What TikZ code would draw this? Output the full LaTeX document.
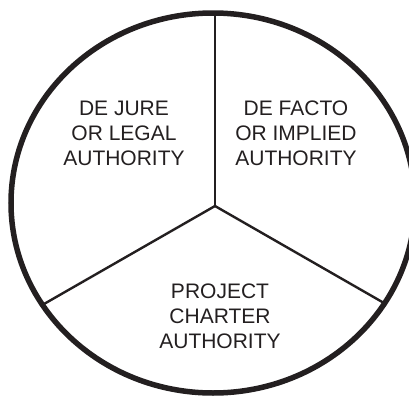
\documentclass[tikz,border=0pt]{standalone}
\usepackage{fontspec}
\setmainfont{Liberation Sans}
\definecolor{inkgray}{HTML}{231F20}
\begin{document}
\begin{tikzpicture}[
  x=1bp, y=-1bp,
  rim/.style={draw=inkgray, line width=5.5bp},
  spoke/.style={draw=inkgray, line width=2.4bp},
  sector/.style={align=center, text=inkgray, inner sep=0pt,
    font=\fontsize{21bp}{25bp}\selectfont}
]
  \useasboundingbox (0,0) rectangle (409,397);

  % Rand (leicht oval) und Mittelpunkt der Speichen
  \draw[rim] (213,203) ellipse [x radius=202, y radius=190];
  \coordinate (hub) at (215,206);
  \coordinate (top) at (215,12);
  \coordinate (lowleft) at (44,304);
  \coordinate (lowright) at (384,303);

  % Speichen
  \draw[spoke] (hub) -- (top);
  \draw[spoke] (hub) -- (lowleft);
  \draw[spoke] (hub) -- (lowright);

  % Beschriftung der drei Sektoren
  \node[sector] (dejure) at (124,133) {DE JURE\\OR LEGAL\\AUTHORITY};
  \node[sector] (defacto) at (296,133) {DE FACTO\\OR IMPLIED\\AUTHORITY};
  \node[sector] (charter) at (220,316) {PROJECT\\CHARTER\\AUTHORITY};
\end{tikzpicture}
\end{document}
